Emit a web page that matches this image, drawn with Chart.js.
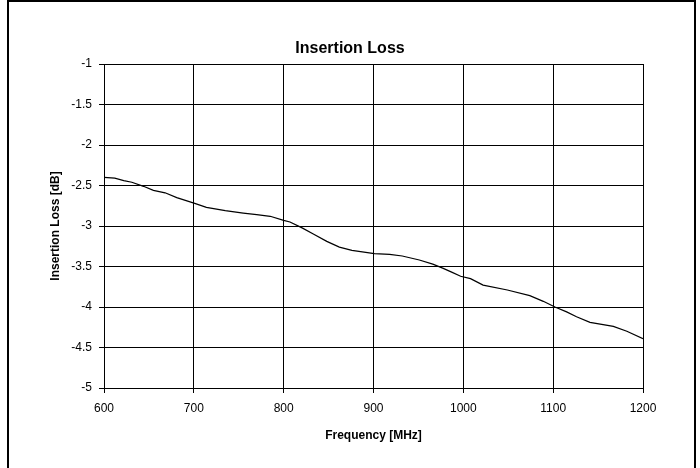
<!DOCTYPE html>
<html>
<head>
<meta charset="utf-8">
<script src="https://cdn.jsdelivr.net/npm/chart.js@4/dist/chart.umd.min.js"></script>
<style>
  html, body { margin: 0; padding: 0; background: #fff; }
  #wrap { position: relative; width: 700px; height: 468px; overflow: hidden; }
  #c { position: absolute; left: 0; top: 0; }
  #frame { position: absolute; left: 7px; top: 0; width: 689px; height: 480px;
           box-sizing: border-box; border: 2px solid #000; pointer-events: none; }
</style>
</head>
<body>
<div id="wrap">
  <canvas id="c" width="700" height="468"></canvas>
  <div id="frame"></div>
</div>
<script>
const chartTitle = 'Insertion Loss';
const xAxisTitle = 'Frequency [MHz]';
const yAxisTitle = 'Insertion Loss [dB]';

const frequencies = [600, 612, 622, 631, 644, 655, 668, 681, 701, 714, 735, 755, 770, 785,
  800, 807, 820, 833, 848, 862, 876, 901, 918, 932, 951, 966, 977, 987, 997, 1008, 1022,
  1049, 1074, 1089, 1102, 1115, 1126, 1141, 1167, 1182, 1200];
const insertionLoss = [-2.40, -2.41, -2.44, -2.46, -2.51, -2.56, -2.59, -2.65, -2.72, -2.77,
  -2.81, -2.84, -2.86, -2.88, -2.93, -2.95, -3.02, -3.10, -3.19, -3.26, -3.30, -3.34, -3.35,
  -3.37, -3.42, -3.47, -3.52, -3.57, -3.62, -3.65, -3.73, -3.79, -3.86, -3.93, -4.00, -4.06,
  -4.12, -4.19, -4.24, -4.30, -4.39];

const xMin = 600, xMax = 1200, xStep = 100;
const yMin = -5, yMax = -1, yStep = 0.5;

const points = frequencies.map((f, i) => ({ x: f, y: insertionLoss[i] }));
const FONT = "'Liberation Sans', Arial, sans-serif";

new Chart(document.getElementById('c'), {
  type: 'line',
  data: {
    datasets: [{
      data: points,
      borderColor: '#000',
      borderWidth: 1.2,
      pointRadius: 0,
      tension: 0,
      fill: false,
      yAxisID: 'y'
    }]
  },
  options: {
    responsive: false,
    animation: false,
    events: [],
    layout: { padding: { left: 0, right: 0, top: 0, bottom: 0 } },
    plugins: {
      legend: { display: false },
      tooltip: { enabled: false },
      title: {
        display: true,
        text: chartTitle,
        color: '#000',
        font: { family: FONT, size: 16, weight: 'bold', lineHeight: 1.2 },
        padding: { top: 39.4, bottom: 5.4 }
      }
    },
    scales: {
      x: {
        type: 'linear',
        min: xMin, max: xMax,
        afterFit: s => { s.height = 80; },
        ticks: {
          stepSize: xStep,
          color: '#000',
          padding: 8,
          font: { family: FONT, size: 12 },
          maxRotation: 0,
          callback: v => String(v)
        },
        grid: { color: '#000', lineWidth: 1, tickLength: 5, drawTicks: true },
        border: { color: '#000', width: 1 },
        title: {
          display: true,
          text: xAxisTitle,
          color: '#000',
          font: { family: FONT, size: 12, weight: 'bold', lineHeight: 1.2 },
          padding: { top: 0, bottom: 24.8 }
        }
      },
      y: {
        type: 'linear',
        position: 'left',
        min: yMin, max: yMax,
        afterFit: s => { s.width = 104; },
        ticks: {
          stepSize: yStep,
          color: '#000',
          padding: 7,
          font: { family: FONT, size: 12 },
          callback: v => String(v)
        },
        grid: { color: '#000', lineWidth: 1, tickLength: 5, drawTicks: true },
        border: { color: '#000', width: 1 },
        title: {
          display: true,
          text: yAxisTitle,
          color: '#000',
          font: { family: FONT, size: 12, weight: 'bold', lineHeight: 1.2 },
          padding: { top: 48.8, bottom: 0 }
        }
      },
      yR: {
        type: 'linear',
        position: 'right',
        min: yMin, max: yMax,
        afterFit: s => { s.width = 57; },
        grid: { display: false, drawTicks: false },
        ticks: { display: false },
        border: { display: false },
        title: { display: false }
      }
    }
  }
});
</script>
</body>
</html>
